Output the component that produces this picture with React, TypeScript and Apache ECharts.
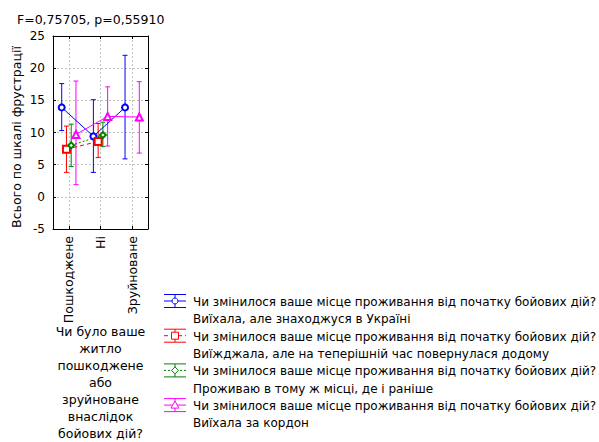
import React, { useEffect, useRef } from 'react';
import * as echarts from 'echarts';

const titleText = 'F=0,75705, p=0,55910';
const categories = ['Пошкоджене', 'Ні', 'Зруйноване'];
const xTitle = 'Чи було ваше\nжитло\nпошкоджене\nабо\nзруйноване\nвнаслідок\nбойових дій?';
const yTitle = 'Всього по шкалі фрустрації';
const yMin = -5;
const yMax = 25;
const yStep = 5;

const seriesNames = [
  'Чи змінилося ваше місце проживання від початку бойових дій?\nВиїхала, але знаходжуся в Україні',
  'Чи змінилося ваше місце проживання від початку бойових дій?\nВиїжджала, але на теперішній час повернулася додому',
  'Чи змінилося ваше місце проживання від початку бойових дій?\nПроживаю в тому ж місці, де і раніше',
  'Чи змінилося ваше місце проживання від початку бойових дій?\nВиїхала за кордон',
];

// means and confidence limits per category
const blueMean = [13.9, 9.4, 13.9];
const blueLow = [10.3, 3.8, 5.9];
const blueHigh = [17.6, 15.1, 22.0];

const redMean = [7.4, 8.6, null];
const redLow = [3.8, 6.1, null];
const redHigh = [11.0, 11.4, null];

const greenMean = [8.0, 9.6, null];
const greenLow = [4.7, 7.8, null];
const greenHigh = [11.3, 11.6, null];

const magentaMean = [9.7, 12.5, 12.4];
const magentaLow = [1.9, 7.9, 6.8];
const magentaHigh = [18.0, 17.1, 17.9];

const FONT = '"DejaVu Sans", "Liberation Sans", sans-serif';
const FS = 12.5;
const LEG_FS = 12;

type Sty = { color: string; symbol: string; size: number; dash: any; offset: number; mean: (number | null)[]; low: (number | null)[]; high: (number | null)[] };

const styles: Sty[] = [
  { color: '#0000ff', symbol: 'emptyCircle', size: 6, dash: 'solid', offset: -0.225, mean: blueMean, low: blueLow, high: blueHigh },
  { color: '#ff0000', symbol: 'emptyRect', size: 7, dash: [4, 3], offset: -0.075, mean: redMean, low: redLow, high: redHigh },
  { color: '#008000', symbol: 'emptyDiamond', size: 6, dash: [2, 2], offset: 0.075, mean: greenMean, low: greenLow, high: greenHigh },
  { color: '#ff00ff', symbol: 'emptyTriangle', size: 7, dash: 'solid', offset: 0.225, mean: magentaMean, low: magentaLow, high: magentaHigh },
];

function legendGraphics() {
  const els: any[] = [];
  const x0 = 164;
  const x1 = 186;
  const xc = 175;
  styles.forEach((s, i) => {
    const yc = 301 + i * 34.7;
    const ls = { stroke: s.color, lineWidth: 1 };
    els.push({ type: 'line', shape: { x1: x0, y1: yc - 6.5, x2: x1, y2: yc - 6.5 }, style: ls, silent: true });
    els.push({ type: 'line', shape: { x1: x0, y1: yc + 6.5, x2: x1, y2: yc + 6.5 }, style: ls, silent: true });
    els.push({ type: 'line', shape: { x1: xc, y1: yc - 6.5, x2: xc, y2: yc + 6.5 }, style: ls, silent: true });
    els.push({
      type: 'line', shape: { x1: x0, y1: yc, x2: x1, y2: yc },
      style: { stroke: s.color, lineWidth: 1, lineDash: s.dash === 'solid' ? null : s.dash }, silent: true,
    });
    const sym = { fill: '#fff', stroke: s.color, lineWidth: 1 };
    if (i === 0) els.push({ type: 'circle', shape: { cx: xc, cy: yc, r: 3 }, style: sym, silent: true });
    if (i === 1) els.push({ type: 'rect', shape: { x: xc - 3.5, y: yc - 3.5, width: 7, height: 7 }, style: sym, silent: true });
    if (i === 2) els.push({ type: 'polygon', shape: { points: [[xc, yc - 3.5], [xc + 3.5, yc], [xc, yc + 3.5], [xc - 3.5, yc]] }, style: sym, silent: true });
    if (i === 3) els.push({ type: 'polygon', shape: { points: [[xc, yc - 4], [xc + 4, yc + 3], [xc - 4, yc + 3]] }, style: sym, silent: true });
    els.push({
      type: 'text', x: 193, y: yc - 7.6,
      style: { text: seriesNames[i], font: `${LEG_FS}px ${FONT}`, fill: '#000', lineHeight: 17.3, verticalAlign: 'top', align: 'left' },
      silent: true,
    });
  });
  return els;
}

export default function App() {
  const ref = useRef<HTMLDivElement>(null);
  useEffect(() => {
    if (!ref.current) return;
    const chart = echarts.init(ref.current, undefined, { renderer: 'svg' });
    const catIdx = categories.map((_, i) => i);
    const series: any[] = [];
    styles.forEach((s, k) => {
      const bars = s.mean
        .map((m, i) => (m == null ? null : [i + s.offset, s.low[i], s.high[i]]))
        .filter((d) => d != null);
      const pts = s.mean
        .map((m, i) => (m == null ? null : [i + s.offset, m]))
        .filter((d) => d != null);
      series.push({
        type: 'custom',
        name: seriesNames[k] + ' CI',
        data: bars,
        encode: { x: 0, y: [1, 2] },
        z: 3,
        silent: true,
        renderItem: (_p: any, api: any) => {
          const x = api.value(0);
          const lo = api.coord([x, api.value(1)]);
          const hi = api.coord([x, api.value(2)]);
          const cap = 2.5;
          const st = { stroke: s.color, lineWidth: 1 };
          return {
            type: 'group',
            children: [
              { type: 'line', shape: { x1: lo[0], y1: lo[1], x2: hi[0], y2: hi[1] }, style: st },
              { type: 'line', shape: { x1: hi[0] - cap, y1: hi[1], x2: hi[0] + cap, y2: hi[1] }, style: st },
              { type: 'line', shape: { x1: lo[0] - cap, y1: lo[1], x2: lo[0] + cap, y2: lo[1] }, style: st },
            ],
          };
        },
      });
      series.push({
        type: 'line',
        name: seriesNames[k],
        data: pts,
        z: 4,
        symbol: s.symbol,
        symbolSize: s.size,
        showSymbol: true,
        itemStyle: { color: s.color, borderWidth: 1 },
        lineStyle: { color: s.color, width: 1, type: s.dash },
        silent: true,
      });
    });

    const axisFont = { color: '#000', fontFamily: FONT, fontSize: FS };
    const graphics = legendGraphics();
    graphics.push({
      type: 'text', x: 100.5, y: 323,
      style: { text: xTitle, font: `${FS}px ${FONT}`, fill: '#000', lineHeight: 17, align: 'center', verticalAlign: 'top' },
      silent: true,
    });
    chart.setOption({
      animation: false,
      backgroundColor: '#fff',
      title: {
        text: titleText, left: 12, top: 8,
        textStyle: { color: '#000', fontFamily: FONT, fontSize: FS, fontWeight: 'normal' },
      },
      grid: { left: 53, right: 451, top: 36, bottom: 213, show: false, containLabel: false, outerBoundsMode: 'none' },
      xAxis: [
        {
          type: 'value', min: -0.5, max: 2.5, position: 'bottom',
          axisLine: { show: true, onZero: false, lineStyle: { color: '#000' } },
          axisTick: { show: true, inside: true, length: 3, customValues: catIdx, lineStyle: { color: '#000' } },
          axisLabel: { customValues: catIdx, rotate: 90, margin: 7, formatter: (v: number) => categories[Math.round(v)] ?? '', ...axisFont },
          splitLine: { show: true, lineStyle: { color: '#c4c4c4', type: [2, 2] } },
        },
        {
          type: 'value', min: -0.5, max: 2.5, position: 'top',
          axisLine: { show: true, onZero: false, lineStyle: { color: '#000' } },
          axisTick: { show: true, inside: true, length: 3, customValues: catIdx, lineStyle: { color: '#000' } },
          axisLabel: { show: false, customValues: catIdx },
          splitLine: { show: false },
        },
      ],
      yAxis: [
        {
          type: 'value', min: yMin, max: yMax, interval: yStep, position: 'left',
          axisLine: { show: true, onZero: false, lineStyle: { color: '#000' } },
          axisTick: { show: true, inside: true, length: 3, lineStyle: { color: '#000' } },
          axisLabel: { margin: 8, ...axisFont, fontSize: 12 },
          splitLine: { show: true, lineStyle: { color: '#c4c4c4', type: [2, 2] } },
          name: yTitle, nameLocation: 'middle', nameGap: 30,
          nameTextStyle: { ...axisFont, padding: [0, 9, 0, 0] },
        },
        {
          type: 'value', min: yMin, max: yMax, interval: yStep, position: 'right',
          axisLine: { show: true, onZero: false, lineStyle: { color: '#000' } },
          axisTick: { show: true, inside: true, length: 3, lineStyle: { color: '#000' } },
          axisLabel: { show: false },
          splitLine: { show: false },
        },
      ],
      series,
      graphic: graphics,
    });
    return () => chart.dispose();
  }, []);
  return <div ref={ref} style={{ position: 'absolute', left: 0, top: 0, width: 599, height: 442 }} />;
}
